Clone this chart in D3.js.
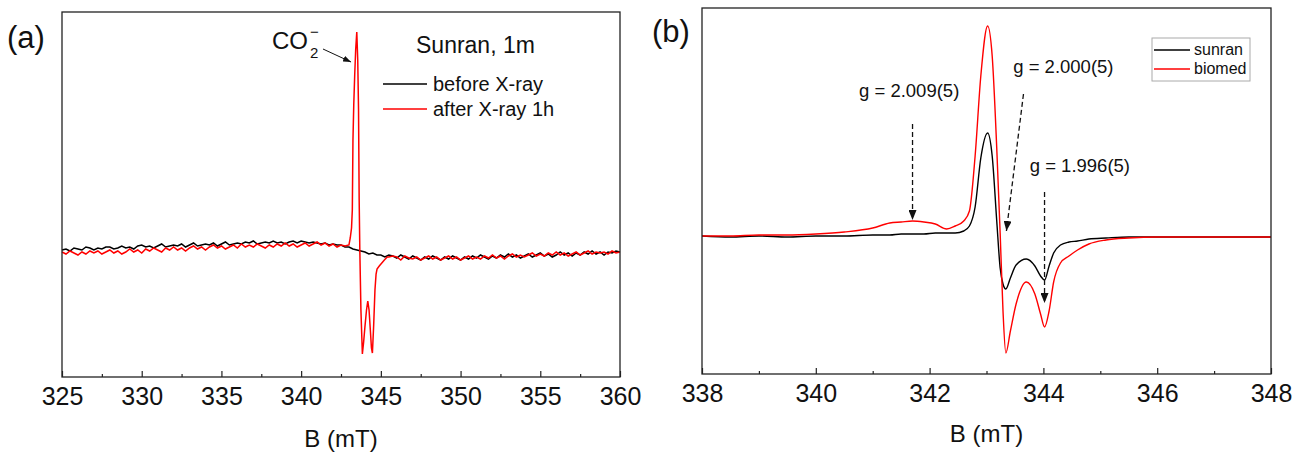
<!DOCTYPE html>
<html>
<head>
<meta charset="utf-8">
<script src="https://cdn.jsdelivr.net/npm/d3@7"></script>
<style>
	body { margin: 0; background: #fff; }
	text { font-family: "Liberation Sans", Arial, sans-serif; fill: #111; }
</style>
</head>
<body>
<div id="chart-area"></div>
<script>

// ---- panel (a): Sunran, 1m, before / after X-ray (B sampled every 0.25 mT)
const fieldA = d3.range(325, 360.001, 0.25);

const beforeXray = [
	0.00,0.01,-0.01,0.02, 0.01,0.00,0.03,0.02, 0.00,0.02,0.01,0.03, 0.03,0.01,0.02,0.04,
	0.02,0.03,0.01,0.04, 0.05,0.03,0.04,0.02, 0.04,0.06,0.03,0.04, 0.05,0.04,0.06,0.03,
	0.05,0.07,0.04,0.05, 0.06,0.05,0.07,0.04, 0.06,0.08,0.05,0.06, 0.07,0.06,0.08,0.07,
	0.09,0.06,0.07,0.08, 0.07,0.09,0.07,0.08, 0.06,0.08,0.09,0.07, 0.09,0.08,0.07,0.08,
	0.07,0.06,0.07,0.05, 0.06,0.05,0.05,0.03, 0.03,0.01,0.00,-0.01, -0.02,-0.04,-0.03,-0.05,
	-0.05,-0.07,-0.05,-0.06, -0.08,-0.05,-0.07,-0.09, -0.06,-0.08,-0.10,-0.07, -0.09,-0.06,-0.08,-0.10,
	-0.07,-0.09,-0.06,-0.08, -0.10,-0.07,-0.09,-0.06, -0.08,-0.05,-0.07,-0.09, -0.06,-0.08,-0.05,-0.07,
	-0.04,-0.07,-0.05,-0.08, -0.06,-0.04,-0.07,-0.05, -0.03,-0.06,-0.04,-0.07, -0.05,-0.02,-0.05,-0.03,
	-0.06,-0.03,-0.05,-0.02, -0.04,-0.01,-0.04,-0.02, -0.05,-0.02,-0.03,-0.01, -0.02
];

// baseline of the after-X-ray trace; the CO2- line region is in peakField / peakSignal
const afterXray = [
	-0.02,-0.04,-0.01,-0.03, -0.05,-0.02,-0.04,-0.01, -0.03,-0.01,-0.04,-0.02, 0.00,-0.03,-0.01,-0.04,
	-0.02,0.01,-0.02,0.00, -0.03,0.01,-0.01,0.02, 0.00,-0.02,0.02,0.00, 0.03,0.00,0.02,-0.01,
	0.02,0.04,0.01,0.03, 0.00,0.03,0.05,0.02, 0.04,0.01,0.03,0.05, 0.02,0.06,0.03,0.05,
	0.03,0.06,0.04,0.02, 0.05,0.03,0.06,0.04, 0.07,0.04,0.06,0.03, 0.05,0.07,0.04,0.06,
	0.08,0.05,0.07,0.04, 0.06,0.03,0.05,0.04, null,null,null,null, null,null,null,null,
	null,null,-0.07,-0.06, -0.07,-0.10,-0.06,-0.08, -0.09,-0.07,-0.10,-0.08, -0.06,-0.09,-0.07,-0.10,
	-0.08,-0.06,-0.09,-0.07, -0.10,-0.08,-0.06,-0.09, -0.07,-0.09,-0.06,-0.08, -0.05,-0.08,-0.06,-0.09,
	-0.06,-0.04,-0.07,-0.05, -0.07,-0.05,-0.03,-0.06, -0.04,-0.06,-0.03,-0.05, -0.02,-0.05,-0.03,-0.06,
	-0.04,-0.02,-0.05,-0.03, -0.01,-0.04,-0.02,-0.03, -0.02,-0.04,-0.01,-0.03, -0.02
];

const peakField = [343.00,343.08,343.16,343.21,343.25,343.30,343.36,343.42,343.49,343.55,343.60,
	343.64,343.68,343.75,343.84,343.92,344.00,344.10,344.18,344.26,344.34,344.41,344.47,344.55,
	344.63,344.70,344.76,344.90,345.06,345.22,345.40];
const peakSignal = [0.05,0.12,0.22,0.40,1.10,1.45,1.75,2.00,2.18,1.90,1.40,
	0.50,0.00,-0.60,-1.04,-0.92,-0.77,-0.60,-0.51,-0.60,-0.80,-0.98,-1.03,-0.75,
	-0.40,-0.24,-0.19,-0.16,-0.13,-0.10,-0.07];

const ticksA = [325, 330, 335, 340, 345, 350, 355, 360];
const minorA = [327.5, 332.5, 337.5, 342.5, 347.5, 352.5, 357.5];

// ---- panel (b): sunran vs biomed
const fieldB = [338.0,338.5,339.0,339.5,340.0,340.5,341.0,341.3,341.5,341.7,341.9,342.1,342.3,342.45,
	342.6,342.7,342.8,342.9,343.02,343.1,343.18,343.24,343.29,343.34,343.42,343.52,343.7,343.85,
	343.95,344.02,344.1,344.18,344.3,344.45,344.6,344.8,345.1,345.5,346.0,346.5,347.0,347.5,348.0];
const sunran = [0.00,-0.01,0.00,-0.01,0.00,0.00,0.01,0.01,0.02,0.02,0.02,0.03,0.03,0.03,
	0.05,0.10,0.29,0.78,1.03,0.80,0.15,-0.32,-0.48,-0.53,-0.42,-0.29,-0.23,-0.30,
	-0.40,-0.44,-0.30,-0.17,-0.09,-0.06,-0.05,-0.03,-0.02,-0.01,-0.01,-0.01,-0.01,-0.01,-0.01];
const biomed = [0.00,0.00,0.01,0.01,0.02,0.04,0.08,0.13,0.14,0.15,0.14,0.12,0.07,0.10,
	0.15,0.25,0.80,1.60,2.10,1.80,0.88,0.03,-0.75,-1.17,-0.95,-0.68,-0.46,-0.58,
	-0.78,-0.91,-0.75,-0.46,-0.27,-0.20,-0.14,-0.08,-0.04,-0.02,-0.01,-0.01,-0.01,-0.01,-0.01];

const ticksB = [338, 340, 342, 344, 346, 348];
const minorB = [339, 341, 343, 345, 347];


const svg = d3.select('#chart-area').append('svg')
	.attr('width', 1303)
	.attr('height', 452);

const defs = svg.append('defs');
defs.append('marker')
	.attr('id', 'head')
	.attr('markerUnits', 'userSpaceOnUse')
	.attr('markerWidth', 10).attr('markerHeight', 8)
	.attr('refX', 10).attr('refY', 4)
	.attr('orient', 'auto')
	.append('path')
		.attr('d', 'M0,0 L10,4 L0,8 Z')
		.attr('fill', '#111');
defs.append('marker')
	.attr('id', 'headSmall')
	.attr('markerUnits', 'userSpaceOnUse')
	.attr('markerWidth', 8).attr('markerHeight', 6)
	.attr('refX', 8).attr('refY', 3)
	.attr('orient', 'auto')
	.append('path')
		.attr('d', 'M0,0 L8,3 L0,6 Z')
		.attr('fill', '#111');

// frame + ticks (inside, bottom only) + labels
function drawAxes(x, y, major, minor, titleY) {
	let [x0, x1] = x.range();
	let [y0, y1] = y.range();

	svg.append('g')
		.attr('transform', 'translate(0,' + y0 + ')')
		.call(d3.axisBottom(x).tickValues(minor).tickSize(-3).tickFormat(''))
		.call(a => a.select('.domain').remove())
		.selectAll('line').attr('stroke', '#222').attr('stroke-width', 1.2);

	let ax = svg.append('g')
		.attr('transform', 'translate(0,' + y0 + ')')
		.call(d3.axisBottom(x).tickValues(major).tickSize(-6).tickPadding(10).tickFormat(d3.format('d')));
	ax.select('.domain').remove();
	ax.selectAll('line').attr('stroke', '#222').attr('stroke-width', 1.2);
	ax.selectAll('text').attr('font-size', '25px').attr('fill', '#111');

	svg.append('rect')
		.attr('x', x0).attr('y', y1)
		.attr('width', x1 - x0).attr('height', y0 - y1)
		.attr('fill', 'none')
		.attr('stroke', '#222')
		.attr('stroke-width', 1.3);

	svg.append('text')
		.attr('x', (x0 + x1) / 2)
		.attr('y', titleY)
		.attr('font-size', '24px')
		.attr('text-anchor', 'middle')
		.text('B (mT)');
}

// ---------------- panel (a)
let xA = d3.scaleLinear().domain([325, 360]).range([62, 620]);
let yA = d3.scaleLinear().domain([-1.27, 2.38]).range([377, 12]);

let lineA = d3.line()
	.x(d => xA(d[0]))
	.y(d => yA(d[1]));

let beforePts = fieldA.map((b, i) => [b, beforeXray[i]]);
let afterPts = fieldA.map((b, i) => [b, afterXray[i]])
	.filter(d => d[1] !== null)
	.concat(peakField.map((b, i) => [b, peakSignal[i]]))
	.sort((p, q) => p[0] - q[0]);

svg.append('path')
	.attr('d', lineA(beforePts))
	.attr('fill', 'none')
	.attr('stroke', '#000')
	.attr('stroke-width', 1.5);
svg.append('path')
	.attr('d', lineA(afterPts))
	.attr('fill', 'none')
	.attr('stroke', '#f00')
	.attr('stroke-width', 1.5);

drawAxes(xA, yA, ticksA, minorA, 447);

svg.append('text')
	.attr('x', 7).attr('y', 48)
	.attr('font-size', '31px')
	.text('(a)');

// CO2- label with arrow
svg.append('text').attr('x', 272).attr('y', 49).attr('font-size', '24px').text('CO');
svg.append('text').attr('x', 310).attr('y', 58).attr('font-size', '15px').text('2');
svg.append('text').attr('x', 310).attr('y', 37).attr('font-size', '15px').text('\u2212');
svg.append('line')
	.attr('x1', xA(341.37)).attr('y1', yA(2.01))
	.attr('x2', xA(343.13)).attr('y2', yA(1.88))
	.attr('stroke', '#111')
	.attr('stroke-width', 1)
	.attr('marker-end', 'url(#headSmall)');

svg.append('text')
	.attr('x', 416).attr('y', 53)
	.attr('font-size', '23px')
	.text('Sunran, 1m');

let legA = [['before X-ray', '#000'], ['after X-ray 1h', '#f00']];
legA.forEach((d, i) => {
	svg.append('line')
		.attr('x1', 383).attr('x2', 427)
		.attr('y1', 84 + i * 25).attr('y2', 84 + i * 25)
		.attr('stroke', d[1]).attr('stroke-width', 1.3);
	svg.append('text')
		.attr('x', 433).attr('y', 91 + i * 25)
		.attr('font-size', '20px')
		.text(d[0]);
});

// ---------------- panel (b)
let xB = d3.scaleLinear().domain([338, 348]).range([702, 1271]);
let yB = d3.scaleLinear().domain([-1.38, 2.28]).range([374, 8]);

let lineB = d3.line()
	.x(d => xB(d[0]))
	.y(d => yB(d[1]))
	.curve(d3.curveMonotoneX);

[[sunran, '#000'], [biomed, '#f00']].forEach(s => {
	svg.append('path')
		.attr('d', lineB(fieldB.map((b, i) => [b, s[0][i]])))
		.attr('fill', 'none')
		.attr('stroke', s[1])
		.attr('stroke-width', 1.4);
});

drawAxes(xB, yB, ticksB, minorB, 442);

svg.append('text')
	.attr('x', 652).attr('y', 42)
	.attr('font-size', '31px')
	.text('(b)');

// g-value annotations: [label, text pos (B, I), arrow from (B, I) to (B, I)]
let gNotes = [
	['g = 2.009(5)', [340.76, 1.39], [341.70, 1.12], [341.70, 0.16]],
	['g = 2.000(5)', [343.47, 1.63], [343.65, 1.42], [343.35, 0.05]],
	['g = 1.996(5)', [343.76, 0.64], [344.02, 0.44], [344.02, -0.67]]
];
gNotes.forEach(n => {
	svg.append('text')
		.attr('x', xB(n[1][0])).attr('y', yB(n[1][1]))
		.attr('font-size', '18.5px')
		.text(n[0]);
	svg.append('line')
		.attr('x1', xB(n[2][0])).attr('y1', yB(n[2][1]))
		.attr('x2', xB(n[3][0])).attr('y2', yB(n[3][1]))
		.attr('stroke', '#111')
		.attr('stroke-width', 1.3)
		.attr('stroke-dasharray', '5,3')
		.attr('marker-end', 'url(#head)');
});

// legend box
svg.append('rect')
	.attr('x', 1152).attr('y', 38)
	.attr('width', 98).attr('height', 43)
	.attr('fill', '#fff')
	.attr('stroke', '#aaa')
	.attr('stroke-width', 1);
let legB = [['sunran', '#000'], ['biomed', '#f00']];
legB.forEach((d, i) => {
	svg.append('line')
		.attr('x1', 1154).attr('x2', 1190)
		.attr('y1', 50 + i * 19).attr('y2', 50 + i * 19)
		.attr('stroke', d[1]).attr('stroke-width', 1.3);
	svg.append('text')
		.attr('x', 1194).attr('y', 55 + i * 19)
		.attr('font-size', '16px')
		.text(d[0]);
});

</script>
</body>
</html>
